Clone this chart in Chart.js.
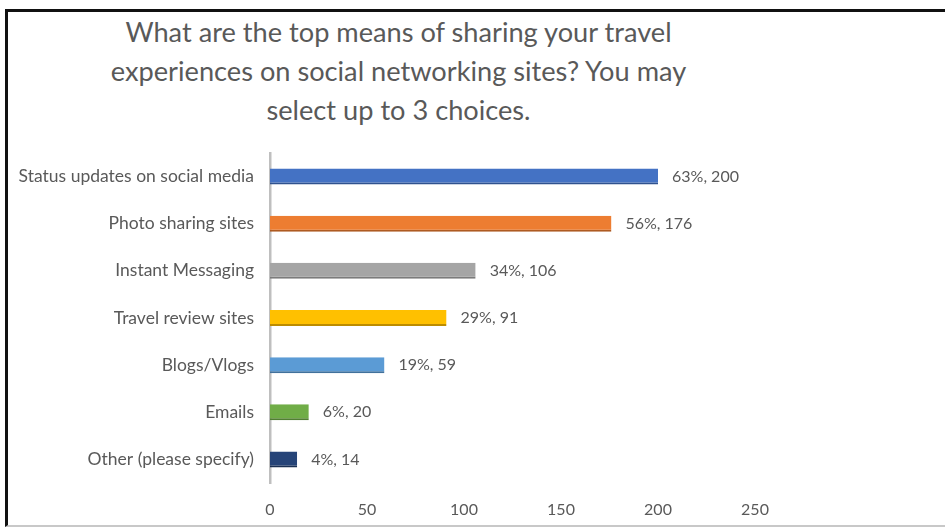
<!DOCTYPE html>
<html lang="en">
<head>
  <meta charset="UTF-8">
  <title>Sharing travel experiences</title>
  <style>
    /* page and frame */
    html, body {
      margin: 0;
      padding: 0;
      width: 945px;
      height: 527px;
      overflow: hidden;
      background: #ffffff;
      font-family: 'Lato', sans-serif;
    }
    .frame {
      position: absolute;
      left: 5px;
      top: 9px;
      width: 940px;
      height: 513px;
      border-top: 3px solid #111111;
      border-left: 3px solid #111111;
      border-bottom: 2px solid #c8c8c8;
    }
    .title {
      position: absolute;
      left: 0;
      top: 12px;
      width: 797px;
      text-align: center;
      color: #595959;
      font-size: 27.2px;
      line-height: 39px;
    }
    #chartBox {
      position: absolute;
      left: 0;
      top: 0;
      width: 945px;
      height: 527px;
    }
  </style>
</head>
<body>

  <div class="frame"></div>
  <div class="title">
    What are the top means of sharing your travel<br>
    experiences on social networking sites? You may<br>
    select up to 3 choices.
  </div>
  <div id="chartBox"><canvas id="shareChart"></canvas></div>

  <script src="https://cdn.jsdelivr.net/npm/chart.js"></script>
  <script>
    // survey answers
    const categories = [
      'Status updates on social media',
      'Photo sharing sites',
      'Instant Messaging',
      'Travel review sites',
      'Blogs/Vlogs',
      'Emails',
      'Other (please specify)'
    ];
    const counts = [200, 176, 106, 91, 59, 20, 14];
    const percents = [63, 56, 34, 29, 19, 6, 4];
    const xTicks = [0, 50, 100, 150, 200, 250];

    const barColors = ['#4472C4', '#ED7D31', '#A5A5A5', '#FFC000', '#5B9BD5', '#70AD47', '#264478'];
    const edgeColors = ['#2F528F', '#AE5A21', '#7B7B7B', '#BC8C00', '#41719C', '#507E32', '#1A2F52'];

    // "63%, 200" next to each bar
    const valueLabels = {
      id: 'valueLabels',
      afterDatasetsDraw(chart) {
        const ctx = chart.ctx;
        const meta = chart.getDatasetMeta(0);
        ctx.save();
        ctx.font = '16px Lato, sans-serif';
        ctx.fillStyle = '#595959';
        ctx.textAlign = 'left';
        ctx.textBaseline = 'middle';
        meta.data.forEach((bar, i) => {
          ctx.fillText(percents[i] + '%, ' + counts[i], bar.x + 14, bar.y);
        });
        ctx.restore();
      }
    };

    const ctx = document.getElementById('shareChart').getContext('2d');
    new Chart(ctx, {
      type: 'bar',
      data: {
        labels: categories,
        datasets: [{
          data: counts,
          backgroundColor: barColors,
          borderColor: edgeColors,
          borderWidth: { top: 0, left: 0, right: 0, bottom: 2 },
          borderSkipped: false,
          barPercentage: 0.34,
          categoryPercentage: 1.0
        }]
      },
      options: {
        indexAxis: 'y',
        responsive: true,
        maintainAspectRatio: false,
        animation: false,
        layout: {
          padding: { left: 0, right: 190, top: 153, bottom: 10 }
        },
        plugins: {
          legend: { display: false },
          title: { display: false },
          tooltip: { enabled: false }
        },
        scales: {
          x: {
            min: 0,
            max: 250,
            afterBuildTicks(scale) {
              scale.ticks = xTicks.map(v => ({ value: v }));
            },
            afterFit(scale) {
              scale.height = 34;
            },
            grid: { display: false, drawTicks: false },
            border: { display: false },
            ticks: {
              padding: 17,
              color: '#595959',
              font: { family: 'Lato', size: 16 }
            }
          },
          y: {
            afterFit(scale) {
              scale.width = 270;
            },
            grid: { display: false, drawTicks: false },
            border: { display: true, color: '#BFBFBF', width: 2.5 },
            ticks: {
              padding: 16,
              color: '#595959',
              font: { family: 'Lato', size: 17.5 }
            }
          }
        }
      },
      plugins: [valueLabels]
    });
  </script>

</body>
</html>
